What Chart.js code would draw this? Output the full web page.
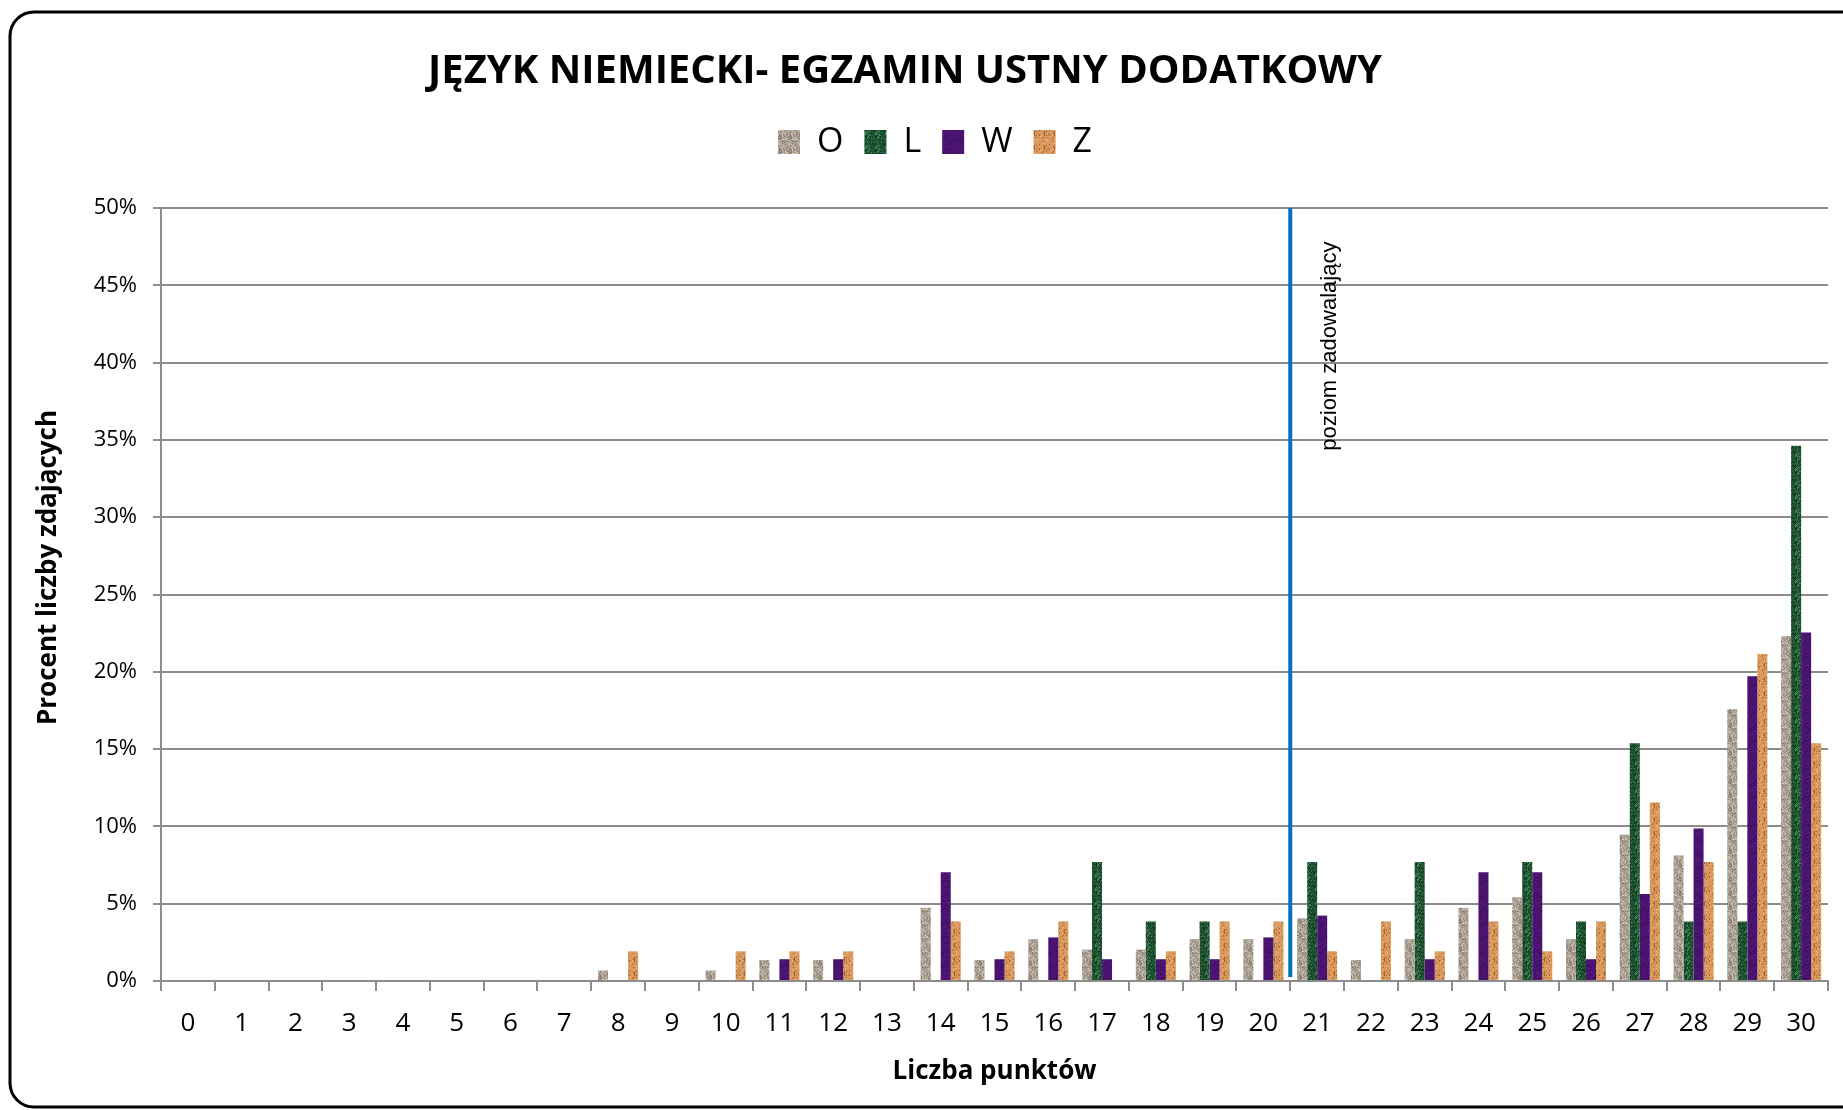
<!DOCTYPE html>
<html lang="pl">
<head>
<meta charset="utf-8">
<title>Język niemiecki - egzamin ustny dodatkowy</title>
<script src="https://cdn.jsdelivr.net/npm/chart.js@4.4.1/dist/chart.umd.min.js"></script>
<style>
    html, body { margin: 0; padding: 0; background: #fff; }
    #chart { display: block; }
</style>
</head>
<body>
<canvas id="chart" width="1843" height="1110"></canvas>
<script>
// punkty 0..30
const points = ['0', '1', '2', '3', '4', '5', '6', '7', '8', '9', '10', '11', '12', '13', '14', '15',
    '16', '17', '18', '19', '20', '21', '22', '23', '24', '25', '26', '27', '28', '29', '30'];

// procent liczby zdających
const valuesO = [0, 0, 0, 0, 0, 0, 0, 0, 0.68, 0, 0.68, 1.35, 1.35, 0, 4.73, 1.35,
    2.7, 2.03, 2.03, 2.7, 2.7, 4.05, 1.35, 2.7, 4.73, 5.41, 2.7, 9.46, 8.11, 17.57, 22.3];
const valuesL = [0, 0, 0, 0, 0, 0, 0, 0, 0, 0, 0, 0, 0, 0, 0, 0,
    0, 7.69, 3.85, 3.85, 0, 7.69, 0, 7.69, 0, 7.69, 3.85, 15.38, 3.85, 3.85, 34.62];
const valuesW = [0, 0, 0, 0, 0, 0, 0, 0, 0, 0, 0, 1.41, 1.41, 0, 7.04, 1.41,
    2.82, 1.41, 1.41, 1.41, 2.82, 4.23, 0, 1.41, 7.04, 7.04, 1.41, 5.63, 9.86, 19.72, 22.54];
const valuesZ = [0, 0, 0, 0, 0, 0, 0, 0, 1.92, 0, 1.92, 1.92, 1.92, 0, 3.85, 1.92,
    3.85, 0, 1.92, 3.85, 3.85, 1.92, 3.85, 1.92, 3.85, 1.92, 3.85, 11.54, 7.69, 21.15, 15.38];

const seriesLabels = ['O', 'L', 'W', 'Z'];
const yTicks = [0, 5, 10, 15, 20, 25, 30, 35, 40, 45, 50];

// próg "poziom zadowalający" leży między 20 a 21 pkt
const thresholdAfter = '20';
const thresholdLabel = 'poziom zadowalający';

const FONT = "'Open Sans', 'DejaVu Sans', sans-serif";

// proste tekstury imitujące wypełnienia z Excela
const hash = (x, y, s) => {
    const v = Math.sin(x * 127.1 + y * 311.7 + s * 74.7) * 43758.5453;
    return v - Math.floor(v);
};

const makeTexture = (base, dark, light, seed, density) => {
    const c = document.createElement('canvas');
    c.width = 10;
    c.height = 14;
    const g = c.getContext('2d');
    g.fillStyle = base;
    g.fillRect(0, 0, c.width, c.height);
    for (let y = 0; y < c.height; y++) {
        for (let x = 0; x < c.width; x++) {
            const h = hash(x, y, seed);
            if (h < density) {
                g.fillStyle = dark;
                g.fillRect(x, y, 1, 1);
            } else if (h > 1 - density * 0.6) {
                g.fillStyle = light;
                g.fillRect(x, y, 1, 1);
            }
        }
    }
    return g.createPattern(c, 'repeat');
};

const texO = makeTexture('#ada294', '#8a7f73', '#d4ccc2', 1, 0.22);
const texL = makeTexture('#1f5533', '#0f3a1c', '#4a845c', 2, 0.2);
const texW = makeTexture('#4a1470', '#3a0d5a', '#5e1a8a', 3, 0.12);
const texZ = makeTexture('#d9995c', '#a5622d', '#efbd8c', 4, 0.14);

const framePlugin = {
    id: 'frame',
    beforeDraw(chart) {
        const ctx = chart.ctx;
        ctx.save();
        ctx.fillStyle = '#fff';
        ctx.fillRect(0, 0, chart.width, chart.height);
        ctx.strokeStyle = '#000';
        ctx.lineWidth = 3;
        ctx.beginPath();
        ctx.roundRect(10, 12, chart.width + 40, chart.height - 15, 24);
        ctx.stroke();
        ctx.restore();
    }
};

const thresholdPlugin = {
    id: 'threshold',
    afterDatasetsDraw(chart) {
        const { ctx, chartArea, scales: { x, y } } = chart;
        const i = points.indexOf(thresholdAfter);
        const px = (x.getPixelForValue(i) + x.getPixelForValue(i + 1)) / 2;
        ctx.save();
        ctx.strokeStyle = '#0070c0';
        ctx.lineWidth = 4;
        ctx.beginPath();
        ctx.moveTo(px, chartArea.top);
        ctx.lineTo(px, chartArea.bottom - 4);
        ctx.stroke();

        ctx.translate(px + 40, y.getPixelForValue(34.3));
        ctx.rotate(-Math.PI / 2);
        ctx.fillStyle = '#000';
        ctx.font = "22px 'Liberation Sans', Arial, sans-serif";
        ctx.textAlign = 'left';
        ctx.textBaseline = 'middle';
        ctx.fillText(thresholdLabel, 0, 0);
        ctx.restore();
    }
};

// dodatkowy odstęp pod legendą i przesunięcia jak w oryginale
const legendGapPlugin = {
    id: 'legendGap',
    afterInit(chart) {
        const fit = chart.legend.fit;
        chart.legend.fit = function () {
            fit.call(this);
            this.height += 39;
        };
    },
    afterLayout(chart) {
        chart.legend.left += 21;
        chart.legend.right += 21;
        chart.titleBlock.left -= 9;
        chart.titleBlock.right -= 9;
    }
};

const gridColor = '#8c8c8c';

new Chart(document.getElementById('chart'), {
    type: 'bar',
    data: {
        labels: points,
        datasets: [
            { label: seriesLabels[0], data: valuesO, backgroundColor: texO },
            { label: seriesLabels[1], data: valuesL, backgroundColor: texL },
            { label: seriesLabels[2], data: valuesW, backgroundColor: texW },
            { label: seriesLabels[3], data: valuesZ, backgroundColor: texZ }
        ]
    },
    options: {
        responsive: false,
        animation: false,
        devicePixelRatio: 1,
        layout: { padding: { left: 0, right: 15, top: 0, bottom: 0 } },
        datasets: {
            bar: { barPercentage: 1, categoryPercentage: 0.745, borderWidth: 0 }
        },
        plugins: {
            title: {
                display: true,
                text: 'JĘZYK NIEMIECKI- EGZAMIN USTNY DODATKOWY',
                color: '#000',
                font: { family: FONT, size: 40, weight: 'bold', lineHeight: 1.2 },
                padding: { top: 48, bottom: 8 }
            },
            legend: {
                display: true,
                position: 'top',
                labels: {
                    color: '#000',
                    font: { family: FONT, size: 34 },
                    boxWidth: 22,
                    boxHeight: 24,
                    padding: 21
                }
            },
            tooltip: { enabled: false }
        },
        scales: {
            x: {
                grid: {
                    offset: true,
                    drawOnChartArea: false,
                    color: gridColor,
                    lineWidth: 2,
                    tickLength: 10
                },
                border: { color: gridColor, width: 2 },
                ticks: {
                    color: '#000',
                    font: { family: FONT, size: 26 },
                    padding: 17,
                    maxRotation: 0,
                    autoSkip: false
                },
                title: {
                    display: true,
                    text: 'Liczba punktów',
                    color: '#000',
                    font: { family: FONT, size: 26, weight: 'bold', lineHeight: 1.2 },
                    padding: { top: 0, bottom: 23 }
                },
                afterFit(scale) { scale.height = 129; }
            },
            y: {
                min: 0,
                max: 50,
                afterBuildTicks(scale) {
                    scale.ticks = yTicks.map(v => ({ value: v }));
                },
                grid: {
                    color: gridColor,
                    lineWidth: 2,
                    tickLength: 8
                },
                border: { color: gridColor, width: 2 },
                ticks: {
                    color: '#000',
                    font: { family: FONT, size: 22 },
                    padding: 16,
                    callback: v => v + '%'
                },
                title: {
                    display: true,
                    // spacje z przodu podnoszą napis jak w oryginale
                    text: '        Procent liczby zdających',
                    color: '#000',
                    font: { family: FONT, size: 26, weight: 'bold', lineHeight: 1.2 },
                    padding: { top: 33, bottom: 0 }
                },
                afterFit(scale) { scale.width = 161; }
            }
        }
    },
    plugins: [framePlugin, thresholdPlugin, legendGapPlugin]
});
</script>
</body>
</html>
